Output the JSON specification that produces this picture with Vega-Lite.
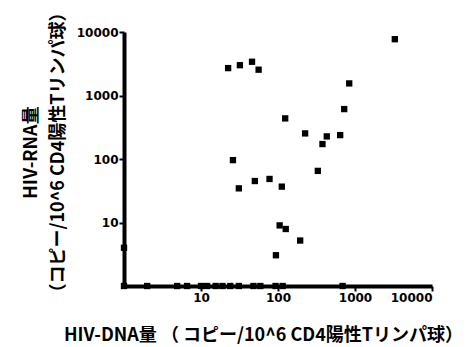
{
  "$schema": "https://vega.github.io/schema/vega-lite/v6.json",
  "width": 308,
  "height": 254,
  "autosize": {"type": "none"},
  "padding": {"left": 124, "top": 32, "right": 36, "bottom": 61},
  "background": "white",
  "config": {
    "view": {"stroke": null},
    "axis": {"grid": false, "domainColor": "black", "tickColor": "black", "labelColor": "black", "titleColor": "black"}
  },
  "data": {
    "values": [
      {"dna": 3290, "rna": 7700},
      {"dna": 22.5, "rna": 2700},
      {"dna": 32, "rna": 3000},
      {"dna": 46, "rna": 3400},
      {"dna": 56, "rna": 2550},
      {"dna": 841, "rna": 1550},
      {"dna": 724, "rna": 611},
      {"dna": 124, "rna": 436},
      {"dna": 225, "rna": 253},
      {"dna": 430, "rna": 227},
      {"dna": 642, "rna": 238},
      {"dna": 378, "rna": 172},
      {"dna": 26, "rna": 96},
      {"dna": 329, "rna": 65},
      {"dna": 31, "rna": 34.5},
      {"dna": 50, "rna": 45},
      {"dna": 77.6, "rna": 48.5},
      {"dna": 112, "rna": 36.7},
      {"dna": 105, "rna": 9.0},
      {"dna": 126, "rna": 7.9},
      {"dna": 194, "rna": 5.2},
      {"dna": 94, "rna": 3.05},
      {"dna": 1, "rna": 4},
      {"dna": 1, "rna": 1},
      {"dna": 2, "rna": 1},
      {"dna": 4.9, "rna": 1},
      {"dna": 6.6, "rna": 1},
      {"dna": 10, "rna": 1},
      {"dna": 12, "rna": 1},
      {"dna": 15.5, "rna": 1},
      {"dna": 19, "rna": 1},
      {"dna": 24, "rna": 1},
      {"dna": 31, "rna": 1},
      {"dna": 48, "rna": 1},
      {"dna": 59, "rna": 1},
      {"dna": 93, "rna": 1},
      {"dna": 115, "rna": 1},
      {"dna": 690, "rna": 1}
    ]
  },
  "mark": {"type": "square", "color": "black", "size": 40, "opacity": 1},
  "encoding": {
    "x": {"field": "dna", "type": "quantitative", "scale": {"type": "log", "domain": [1, 10000], "nice": false},
      "axis": {"values": [10, 100, 1000, 10000], "format": "d", "domainWidth": 4, "tickSize": 5, "tickWidth": 2,
        "labelFont": "DejaVu Sans", "labelFontWeight": "bold", "labelFontSize": 12, "labelPadding": 1,
        "title": "HIV-DNA量 （ コピー/10^6 CD4陽性Tリンパ球）", "titleFont": "Noto Sans CJK JP", "titleFontWeight": "bold", "titleFontSize": 18,
        "titleX": 139, "titleY": 49, "titleAnchor": "middle", "titleAlign": "center", "titleBaseline": "middle"}},
    "y": {"field": "rna", "type": "quantitative", "scale": {"type": "log", "domain": [1, 10000], "nice": false},
      "axis": {"values": [10, 100, 1000, 10000], "format": "d", "domainWidth": 4, "tickSize": 5, "tickWidth": 2,
        "labelFont": "DejaVu Sans", "labelFontWeight": "bold", "labelFontSize": 12, "labelPadding": 1,
        "title": ["HIV-RNA量", "（コピー/10^6 CD4陽性Tリンパ球）"], "titleFont": "Noto Sans CJK JP", "titleFontWeight": "bold", "titleFontSize": 18,
        "titleLineHeight": 27, "titleAngle": -90, "titleX": -93, "titleY": 120, "titleAlign": "center", "titleBaseline": "middle"}}
  }
}
